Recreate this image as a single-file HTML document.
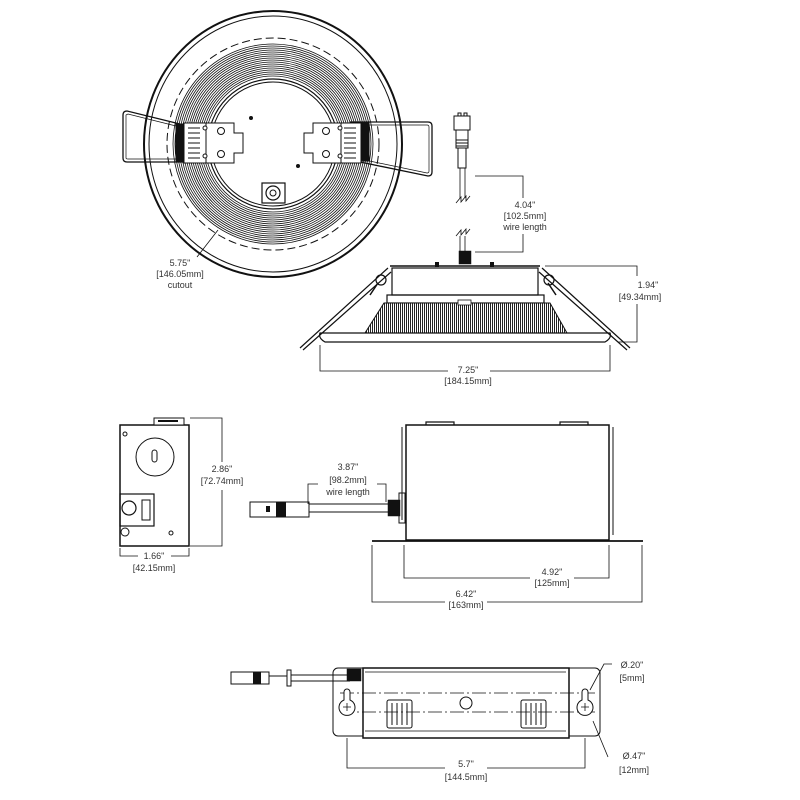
<!DOCTYPE html>
<html><head><meta charset="utf-8"><style>
html,body{margin:0;padding:0;background:#fff}
svg{display:block}
text{font-family:"Liberation Sans",sans-serif;font-size:9px;fill:#333;text-anchor:middle}
</style></head><body>
<svg width="800" height="800" viewBox="0 0 800 800" xmlns="http://www.w3.org/2000/svg">
<defs>
<pattern id="st" width="2" height="2" patternUnits="userSpaceOnUse"><rect width="2" height="2" fill="#fff"/><rect width="1" height="2" fill="#222"/></pattern>
</defs>
<g fill="none" stroke="#111">
<!-- top circle view -->
<ellipse cx="273" cy="144" rx="129" ry="133" stroke-width="2"/>
<ellipse cx="273" cy="144" rx="124" ry="128" stroke-width="1"/>
<circle cx="273" cy="144" r="106" stroke-width="1" stroke-dasharray="8,4"/>
<g stroke-width="0.8">
<circle cx="273" cy="144" r="100"/><circle cx="273" cy="144" r="98"/><circle cx="273" cy="144" r="96"/>
<circle cx="273" cy="144" r="94"/><circle cx="273" cy="144" r="92"/><circle cx="273" cy="144" r="90"/>
<circle cx="273" cy="144" r="88"/><circle cx="273" cy="144" r="86"/><circle cx="273" cy="144" r="84"/>
<circle cx="273" cy="144" r="82"/><circle cx="273" cy="144" r="80"/><circle cx="273" cy="144" r="78"/>
<circle cx="273" cy="144" r="76"/><circle cx="273" cy="144" r="74"/><circle cx="273" cy="144" r="72"/>
<circle cx="273" cy="144" r="70"/><circle cx="273" cy="144" r="68"/>
</g>
<circle cx="273" cy="144" r="65" stroke-width="1.2"/>
<circle cx="273" cy="144" r="62" stroke-width="1"/>
<!-- left bracket -->
<path d="M180 124 L127 111 Q123 111 123 115 L123 158 Q123 162 127 162 L200 162" stroke-width="1.3"/>
<path d="M180 127 L128 114 L126 115 L126 158 Q126 159 128 159 L200 159" stroke-width="0.7"/>
<rect x="176" y="124" width="7" height="38" fill="#111"/>
<rect x="184" y="123" width="22" height="40" fill="#fff" stroke-width="1"/>
<path d="M188 128h12M188 133h12M188 138h12M188 143h12M188 148h12M188 153h12M188 158h12" stroke-width="1"/>
<path d="M206 123h28v10h9v20h-9v10h-28z" fill="#fff" stroke-width="1"/>
<circle cx="221" cy="131" r="3.5"/><circle cx="221" cy="154" r="3.5"/>
<circle cx="205" cy="128" r="2" fill="#fff"/><circle cx="205" cy="156" r="2" fill="#fff"/>
<!-- right bracket -->
<path d="M350 122 L428 122 Q432 122 432 126 L432 172 Q432 176 428 176 L360 162" stroke-width="1.3"/>
<path d="M350 125 L427 125 Q429 125 429 127 L429 171 Q429 173 427 173 L360 159" stroke-width="0.7"/>
<rect x="362" y="123" width="7" height="38" fill="#111"/>
<rect x="341" y="123" width="20" height="40" fill="#fff" stroke-width="1"/>
<path d="M344 128h12M344 133h12M344 138h12M344 143h12M344 148h12M344 153h12M344 158h12" stroke-width="1"/>
<path d="M341 123h-28v10h-9v20h9v10h28z" fill="#fff" stroke-width="1"/>
<circle cx="326" cy="131" r="3.5"/><circle cx="326" cy="154" r="3.5"/>
<circle cx="340" cy="128" r="2" fill="#fff"/><circle cx="340" cy="156" r="2" fill="#fff"/>
<circle cx="251" cy="118" r="2" fill="#111" stroke="none"/>
<circle cx="298" cy="166" r="2" fill="#111" stroke="none"/>
<!-- connector -->
<rect x="262" y="183" width="23" height="20" fill="#fff" stroke-width="1.2"/>
<circle cx="273" cy="193" r="7" stroke-width="1.2"/>
<circle cx="273" cy="193" r="3" stroke-width="1"/>
<!-- cutout leader -->
<path d="M197 257 L218 230" stroke-width="0.8"/>

<!-- wire connector top -->
<rect x="454" y="116" width="16" height="14" fill="#fff" stroke-width="1"/>
<path d="M458 116v-3h3v3M464 116v-3h3v3" stroke-width="1"/>
<rect x="456" y="130" width="12" height="18" stroke-width="1"/>
<path d="M456 140h12M456 143h12M456 146h12" stroke-width="1"/>
<path d="M458 148 v20 h8 v-20" stroke-width="1"/>
<path d="M460 168 v30 M465 168 v30" stroke-width="0.8"/>
<path d="M456 203 l5 -6 v5 l5 -6 v5 l4 -5" stroke-width="0.8"/>
<path d="M456 236 l5 -6 v5 l5 -6 v5 l4 -5" stroke-width="0.8"/>
<path d="M460 236 v18 M465 236 v18" stroke-width="0.8"/>
<rect x="459" y="251" width="12" height="13" fill="#111" stroke-width="0.5"/>
<path d="M475 176 H523 V198 M523 234 V252 H475" stroke-width="0.8"/>

<!-- side view -->
<path d="M390 266 H540" stroke-width="1.5"/>
<rect x="392" y="268" width="146" height="27" stroke-width="1.2"/>
<rect x="387" y="295" width="157" height="8" stroke-width="1.2"/>
<path d="M384 303 L550 303 L567 333 L365 333 Z" fill="url(#st)" stroke-width="1"/>
<rect x="458" y="300" width="13" height="5" fill="#fff" stroke-width="0.8"/>
<path d="M320 333 H610 Q612 338 605 342 H325 Q318 338 320 333Z" fill="#fff" stroke-width="1.2"/>
<path d="M388 268 L300 348 M391 272 L303 350" stroke-width="1.2"/>
<path d="M542 268 L630 348 M539 272 L627 350" stroke-width="1.2"/>
<path d="M378 283 l-8 12 M548 283 l8 12" stroke-width="1.5"/>
<circle cx="381" cy="280" r="5" stroke-width="1.2"/><circle cx="549" cy="280" r="5" stroke-width="1.2"/>
<rect x="435" y="262" width="4" height="5" fill="#111" stroke="none"/>
<rect x="490" y="262" width="4" height="5" fill="#111" stroke="none"/>
<path d="M320 345 V371 H448 M490 371 H610 V345" stroke-width="0.8"/>
<path d="M545 266 H637 V276 M637 304 V342 H618" stroke-width="0.8"/>

<!-- middle left box -->
<rect x="120" y="425" width="69" height="121" stroke-width="1.5"/>
<rect x="154" y="418" width="30" height="7" fill="#fff" stroke-width="1"/>
<path d="M158 421h20" stroke-width="2"/>
<circle cx="155" cy="457" r="19" stroke-width="1"/>
<rect x="152" y="450" width="5" height="12" rx="2.5" stroke-width="1"/>
<circle cx="125" cy="434" r="2" stroke-width="1"/>
<circle cx="171" cy="533" r="2" stroke-width="1"/>
<rect x="120" y="494" width="34" height="32" stroke-width="1.2"/>
<rect x="142" y="500" width="8" height="20" stroke-width="1"/>
<circle cx="129" cy="508" r="7" stroke-width="1.2"/>
<circle cx="125" cy="532" r="4" stroke-width="1"/>
<path d="M190 418 H222 V462 M222 490 V546 H190" stroke-width="0.8"/>
<path d="M120 548 V556 H138 M171 556 H189 V548" stroke-width="0.8"/>

<!-- middle right box -->
<rect x="406" y="425" width="203" height="115" stroke-width="1.5"/>
<path d="M402 427 V520 M613 427 V535" stroke-width="1"/>
<path d="M426 425 v-3 h28 v3 M560 425 v-3 h28 v3" stroke-width="1.2"/>
<path d="M372 541 H643" stroke-width="1.8"/>
<rect x="250" y="502" width="59" height="15" fill="#fff" stroke-width="1"/>
<rect x="276" y="502" width="10" height="15" fill="#111" stroke="none"/>
<rect x="266" y="506" width="4" height="6" fill="#111" stroke="none"/>
<path d="M309 504 H388 M309 512 H388" stroke-width="1"/>
<rect x="388" y="500" width="12" height="16" fill="#111" stroke-width="0.5"/>
<rect x="399" y="493" width="6" height="30" stroke-width="1"/>
<path d="M308 504 V484 H318 M377 484 H386 V502" stroke-width="0.8"/>
<path d="M404 545 V578 H530 M574 578 H609 V545" stroke-width="0.8"/>
<path d="M372 545 V602 H445 M487 602 H642 V545" stroke-width="0.8"/>

<!-- bottom view -->
<rect x="333" y="668" width="267" height="68" rx="5" stroke-width="1"/>
<rect x="363" y="668" width="206" height="70" fill="#fff" stroke-width="1.5"/>
<path d="M365 672 H566 M365 731 H566" stroke-width="0.8"/>
<path d="M340 693 H595 M340 712 H595" stroke-width="0.8" stroke-dasharray="14,3,2,3"/>
<circle cx="466" cy="703" r="6" stroke-width="1"/>
<g stroke-width="1"><rect x="387" y="700" width="25" height="28" rx="2"/><path d="M392 703v22M397 703v22M402 703v22M407 703v22"/>
<rect x="521" y="700" width="25" height="28" rx="2"/><path d="M526 703v22M531 703v22M536 703v22M541 703v22"/></g>
<path d="M344 700 a8 8 0 1 0 6 0 v-8 a3 3 0 0 0 -6 0z" fill="#fff" stroke-width="1"/>
<path d="M582 700 a8 8 0 1 0 6 0 v-8 a3 3 0 0 0 -6 0z" fill="#fff" stroke-width="1"/>
<path d="M343 707h8M347 703v8M581 707h8M585 703v8" stroke-width="0.8"/>
<rect x="231" y="672" width="38" height="12" fill="#fff" stroke-width="1"/>
<rect x="253" y="672" width="8" height="12" fill="#111" stroke="none"/>
<rect x="287" y="670" width="4" height="16" stroke-width="1"/>
<path d="M269 676 H287 M291 675 H350 M291 681 H350" stroke-width="1"/>
<rect x="347" y="669" width="14" height="12" fill="#111" stroke-width="0.5"/>
<path d="M347 738 V768 H445 M487 768 H585 V738" stroke-width="0.8"/>
<path d="M612 664 H604 L590 690" stroke-width="0.8"/>
<path d="M608 757 L593 721" stroke-width="0.8"/>
</g>
<text x="180" y="266">5.75"</text>
<text x="180" y="277">[146.05mm]</text>
<text x="180" y="288">cutout</text>
<text x="525" y="208">4.04"</text>
<text x="525" y="219">[102.5mm]</text>
<text x="525" y="230">wire length</text>
<text x="648" y="288">1.94"</text>
<text x="640" y="300">[49.34mm]</text>
<text x="468" y="373">7.25"</text>
<text x="468" y="384">[184.15mm]</text>
<text x="222" y="472">2.86"</text>
<text x="222" y="484">[72.74mm]</text>
<text x="154" y="559">1.66"</text>
<text x="154" y="571">[42.15mm]</text>
<text x="348" y="470">3.87"</text>
<text x="348" y="483">[98.2mm]</text>
<text x="348" y="495">wire length</text>
<text x="552" y="575">4.92"</text>
<text x="552" y="586">[125mm]</text>
<text x="466" y="597">6.42"</text>
<text x="466" y="608">[163mm]</text>
<text x="466" y="767">5.7"</text>
<text x="466" y="780">[144.5mm]</text>
<text x="632" y="668">Ø.20"</text>
<text x="632" y="681">[5mm]</text>
<text x="634" y="759">Ø.47"</text>
<text x="634" y="773">[12mm]</text>
</svg>
</body></html>
